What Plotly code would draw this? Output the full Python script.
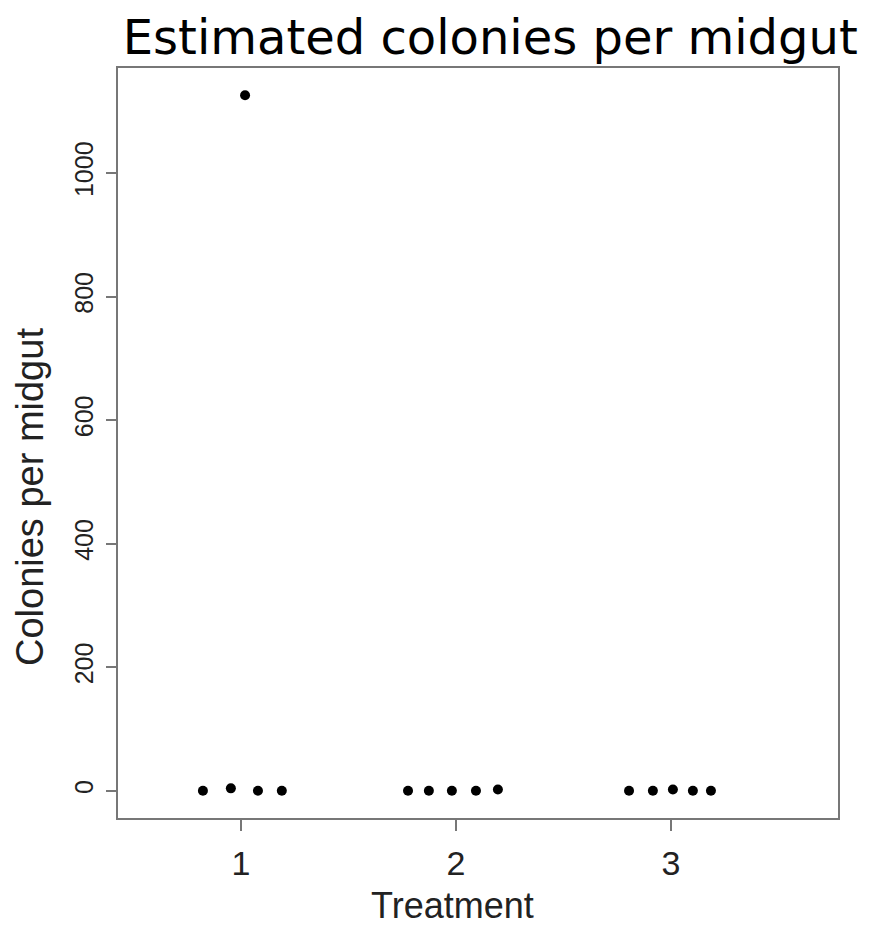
import plotly.graph_objects as go

# Data (x = treatment with jitter as drawn)
treatment_x = [0.823, 0.953, 1.019, 1.079, 1.19,
               1.777, 1.874, 1.981, 2.093, 2.195,
               2.805, 2.916, 3.009, 3.102, 3.186]
colonies = [0, 4, 1126, 0, 0,
            0, 0, 0, 0, 2,
            0, 0, 2, 0, 0]
x_ticks = [1, 2, 3]
y_ticks = [0, 200, 400, 600, 800, 1000]

fig = go.Figure()
fig.add_trace(go.Scatter(
    x=treatment_x, y=colonies, mode="markers",
    marker=dict(color="black", size=10),
    showlegend=False,
))

axis_col = "#777777"
# page body has an 8px default margin, so the figure is 8px smaller than the window
fig.update_layout(
    width=862, height=920,
    margin=dict(l=110, r=32, t=60, b=110, autoexpand=False),
    paper_bgcolor="white", plot_bgcolor="white",
    font=dict(family="Liberation Sans, Arial, sans-serif", color="#222222"),
    xaxis=dict(
        range=[0.428, 3.777], tickvals=x_ticks, ticktext=[str(v) for v in x_ticks],
        showgrid=False, zeroline=False, automargin=False,
        showline=True, linecolor=axis_col, linewidth=1.5, mirror=True,
        ticks="outside", ticklen=11, tickcolor=axis_col, tickwidth=1.5,
        ticklabelstandoff=3,
        tickfont=dict(size=34, color="#222222"),
    ),
    yaxis=dict(
        range=[-44, 1170], tickvals=y_ticks, ticktext=[str(v) for v in y_ticks],
        showgrid=False, zeroline=False, automargin=False,
        showline=True, linecolor=axis_col, linewidth=1.5, mirror=True,
        ticks="outside", ticklen=10, tickcolor=axis_col, tickwidth=1.5,
        tickangle=-90, ticklabelstandoff=3,
        tickfont=dict(size=25, color="#222222"),
    ),
    title=dict(
        text="Estimated colonies per midgut",
        font=dict(family="DejaVu Sans, sans-serif", size=48, color="black"),
        x=0.517, xref="paper", xanchor="center",
        y=0.968, yref="container", yanchor="middle",
    ),
    annotations=[
        dict(text="Treatment", xref="paper", yref="paper", x=0.464, y=-0.1163,
             xanchor="center", yanchor="middle", showarrow=False,
             font=dict(size=36, color="#222222")),
        dict(text="Colonies per midgut", xref="paper", yref="paper", x=-0.1222, y=0.428,
             xanchor="center", yanchor="middle", showarrow=False, textangle=-90,
             font=dict(size=38, color="#222222")),
    ],
)

fig.write_html("out.html")
